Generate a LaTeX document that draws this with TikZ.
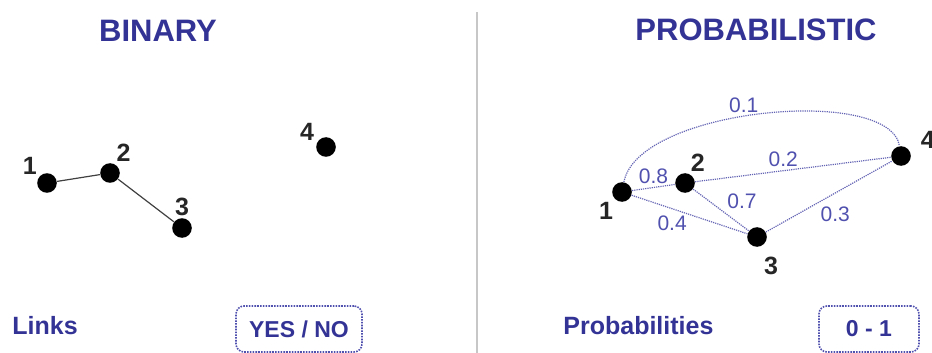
\documentclass[tikz,border=0pt]{standalone}
\usepackage{fontspec}
\setmainfont{Liberation Sans}
\usetikzlibrary{positioning}
\definecolor{headblue}{RGB}{51,51,150}
\definecolor{linkblue}{RGB}{100,100,180}
\definecolor{valblue}{RGB}{80,80,175}
\tikzset{
  vertex/.style={circle, fill=black, minimum size=9.8pt, inner sep=0pt},
  numlbl/.style={font=\bfseries\fontsize{12.5}{14}\selectfont, text=black!85, inner sep=1pt},
  heading/.style={font=\bfseries\fontsize{15.5}{18}\selectfont, text=headblue},
  caption/.style={font=\bfseries\fontsize{12.5}{14}\selectfont, text=headblue, anchor=west, inner sep=0pt},
  valuebox/.style={draw=valblue, line width=0.8pt, dash pattern=on 0.8pt off 0.6pt,
    rounded corners=4pt, minimum height=23pt, font=\bfseries\fontsize{11.5}{13}\selectfont, text=headblue},
  link/.style={draw=black!75, line width=0.6pt},
  prob/.style={draw=linkblue, line width=0.6pt, dash pattern=on 0.6pt off 0.5pt},
  val/.style={font=\fontsize{10.5}{12}\selectfont, text=valblue, inner sep=1.5pt},
}

\begin{document}
\begin{tikzpicture}[x=0.5pt, y=-0.5pt]
  \useasboundingbox (0,0) rectangle (932,353);
  \draw[black!22, line width=1pt] (477,12) -- (477,353);

  % binary side
  \node[heading] (bin) at (158,31) {BINARY};
  \node[vertex, label={[numlbl]140:1}] (b1) at (47,183) {};
  \node[vertex, label={[numlbl]65:2}]  (b2) at (110,173) {};
  \node[vertex, label={[numlbl]90:3}]  (b3) at (182,228) {};
  \node[vertex, label={[numlbl]158:4}] (b4) at (326,147) {};
  \draw[link] (b1) -- (b2) -- (b3);
  \node[caption] (links) at (12,326) {Links};
  \node[valuebox, minimum width=63pt] (yesno) at (299,329) {YES / NO};

  % probabilistic side
  \node[heading] (prb) at (756,30) {PROBABILISTIC};
  \node[vertex, label={[numlbl]230:1}] (p1) at (622,192) {};
  \node[vertex, label={[numlbl]70:2}]  (p2) at (685,183) {};
  \node[vertex, label={[numlbl, label distance=4pt]285:3}] (p3) at (757,237) {};
  \node[vertex, label={[numlbl, label distance=4pt]15:4}]  (p4) at (901,156) {};
  \path
    (p1) edge[prob] node[val, above]       {0.8} (p2)
    (p2) edge[prob] node[val, above, pos=0.45] {0.2} (p4)
    (p2) edge[prob] node[val, above right, pos=0.55] {0.7} (p3)
    (p1) edge[prob] node[val, below=2pt, pos=0.35] {0.4} (p3)
    (p3) edge[prob] node[val, below=5pt, pos=0.55] {0.3} (p4);
  \draw[prob] (p1) .. controls (638,108) and (890,85) .. node[val, above, pos=0.45] {0.1} (p4);
  \node[caption] (probs) at (563,326) {Probabilities};
  \node[valuebox, minimum width=50pt] (range) at (869,329) {0 - 1};
\end{tikzpicture}
\end{document}
